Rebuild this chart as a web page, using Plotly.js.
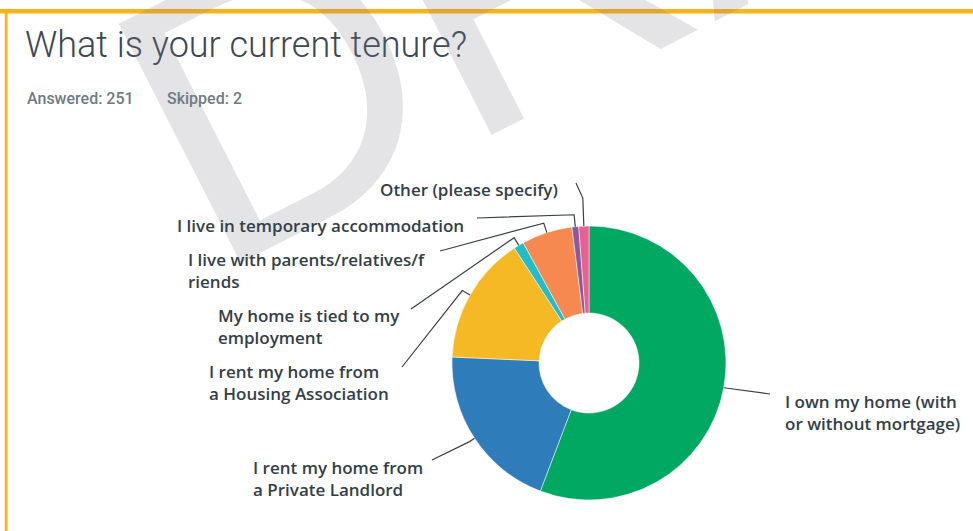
<!DOCTYPE html>
<html><head><meta charset="utf-8">
<script src="https://cdn.plot.ly/plotly-3.0.1.min.js"></script>
<style>html,body{margin:0;padding:0;background:#fff;}#chart{width:973px;height:531px;}</style>
</head><body><div id="chart"></div>
<script>
// ---- data ----
const categories = [
  "I own my home (with or without mortgage)",
  "I rent my home from a Private Landlord",
  "I rent my home from a Housing Association",
  "My home is tied to my employment",
  "I live with parents/relatives/friends",
  "I live in temporary accommodation",
  "Other (please specify)"
];
const responses = [140, 50, 38, 3, 15, 2, 3];
const labelText = [
  "I own my home (with<br>or without mortgage)",
  "I rent my home from<br>a Private Landlord",
  "I rent my home from<br>a Housing Association",
  "My home is tied to my<br>employment",
  "I live with parents/relatives/f<br>riends",
  "I live in temporary accommodation",
  "Other (please specify)"
];
const answered = 251;
const skipped = 2;
const titleText = "What is your current tenure?";
const watermarkText = "DRAFT";

// ---- styles / layout ----
const sliceColors = ["#00a862", "#2e7dba", "#f4b924", "#23bcc8", "#f5894f", "#8a5a9a", "#e95f93"];
const W = 973, H = 531;
const CX = 589, CY = 363, R = 137;
const labelAnchor = [[785, 412], [253, 478], [209, 382], [218, 326], [188, 270], [177, 225], [380, 190]];
const lineEnd = [[770, 394], [432, 460], [402, 367], [411, 309], [440, 251], [477, 218], [576, 183]];
const elbowExt = [0, 6, 9, 9, 10, 12, 28];

const px = x => x / W;
const py = y => 1 - y / H;

const total = responses.reduce((a, b) => a + b, 0);
const shapes = [
  {type: 'rect', xref: 'paper', yref: 'paper', x0: 0, x1: 1, y0: py(13.5), y1: py(9), fillcolor: '#f9b31c', line: {width: 0}, layer: 'below'},
  {type: 'rect', xref: 'paper', yref: 'paper', x0: px(4.8), x1: px(7.6), y0: 0, y1: py(9), fillcolor: '#f9b31c', line: {width: 0}, layer: 'below'}
];
let cum = 0;
responses.forEach((v, i) => {
  const mid = (cum + v / 2) / total * 2 * Math.PI;
  cum += v;
  const sx = CX + R * Math.sin(mid), sy = CY - R * Math.cos(mid);
  const ex = CX + (R + elbowExt[i]) * Math.sin(mid), ey = CY - (R + elbowExt[i]) * Math.cos(mid);
  const [lx, ly] = lineEnd[i];
  shapes.push({
    type: 'path', xref: 'paper', yref: 'paper',
    path: `M ${px(sx)} ${py(sy)} L ${px(ex)} ${py(ey)} L ${px(lx)} ${py(ly)}`,
    line: {color: '#3a3f44', width: 1.2}
  });
});

const labelFont = {family: 'Open Sans', size: 17, color: '#333e48', weight: 600};
const subFont = {family: 'Roboto', size: 16, color: '#6f7a83', weight: 500};
const annotations = [
  {text: watermarkText, xref: 'paper', yref: 'paper', x: px(730), y: py(-138), xanchor: 'center', yanchor: 'middle',
   showarrow: false, textangle: -27, font: {family: 'Liberation Sans', size: 390, color: 'rgba(120,122,135,0.2)'}},
  {text: 'Answered: ' + answered, xref: 'paper', yref: 'paper', x: px(25), y: py(98), xanchor: 'left', yanchor: 'middle',
   showarrow: false, font: subFont},
  {text: 'Skipped: ' + skipped, xref: 'paper', yref: 'paper', x: px(165), y: py(98), xanchor: 'left', yanchor: 'middle',
   showarrow: false, font: subFont}
];
labelText.forEach((t, i) => {
  annotations.push({text: t, xref: 'paper', yref: 'paper', x: px(labelAnchor[i][0] - 2), y: py(labelAnchor[i][1]),
    xanchor: 'left', yanchor: 'middle', align: 'left', showarrow: false, font: labelFont});
});

const trace = {
  type: 'pie',
  labels: categories,
  values: responses,
  sort: false,
  direction: 'clockwise',
  rotation: 0,
  hole: 0.365,
  textinfo: 'none',
  hoverinfo: 'label+value',
  marker: {colors: sliceColors, line: {color: '#ffffff', width: 0.5}},
  domain: {x: [px(CX - R), px(CX + R)], y: [py(CY + R), py(CY - R)]},
  showlegend: false
};

const layout = {
  width: W, height: H,
  margin: {l: 0, r: 0, t: 0, b: 0},
  paper_bgcolor: '#ffffff',
  title: {text: titleText, x: px(25), xanchor: 'left', xref: 'container', y: py(44), yanchor: 'middle', yref: 'container',
          font: {family: 'Roboto', size: 36, weight: 300, color: '#3d4852'}},
  showlegend: false,
  shapes: shapes,
  annotations: annotations
};

Plotly.newPlot('chart', [trace], layout, {displayModeBar: false, staticPlot: true});
</script>
</body></html>
